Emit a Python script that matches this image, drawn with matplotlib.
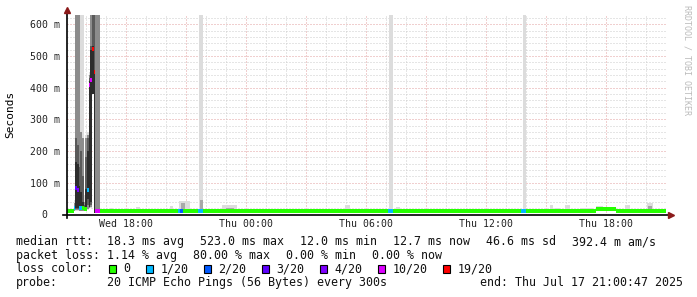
import numpy as np
import matplotlib.pyplot as plt
from matplotlib.patches import Rectangle

plt.rcParams['font.family'] = ['DejaVu Sans Mono', 'DejaVu Sans']

W, H = 697, 297
STEP = 5 / 60                    # rrd step, hours
X_START, X_END = -8.95, 21.01    # hours relative to Thu 00:00
Y_TOP = 629                      # ms
MED_W = 12.5                     # thickness of the median bar, ms

# smokeping loss colours
loss_levels = [0, 1, 2, 3, 4, 10, 19]
loss_colors = ['#26ff00', '#00b8ff', '#0059ff', '#5e00ff', '#7e00ff', '#dd00ff', '#ff0000']
loss_labels = ['0', '1/20', '2/20', '3/20', '4/20', '10/20', '19/20']

# smoke shades, outer -> inner
band_colors = ['#dcdcdc', '#8c8c8c', '#5a5a5a', '#2d2d2d']

# --- the spike at the left, one value per 5 min step from SPIKE_T0 ---
SPIKE_T0 = -8.615
spike_med = [20, 84, 76, 22, 22, 20, 16, 18, 78, 408, 424, 523, 450, 12, 12, 12]
spike_loss = [1, 3, 4, 1, 1, 0, 0, 0, 1, 10, 10, 19, 19, 10, 10, 10]
b1_lo = [10, 10, 10, 10, 10, 10, 10, 12, 15, 20, 20, 380, 5, 10, 10, 10]
b1_hi = [45, 700, 700, 700, 700, 700, 60, 250, 260, 450, 700, 700, 700, 700, 700, 700]
b2_lo = [12, 14, 14, 12, 12, 12, 12, 14, 18, 22, 25, 380, 5, 10, 10, 10]
b2_hi = [35, 700, 700, 700, 260, 240, 40, 240, 250, 440, 700, 700, 700, 700, 700, 700]
b3_lo = [14, 18, 18, 16, 14, 14, 13, 16, 30, 24, 30, 380, 5, 11, 11, 11]
b3_hi = [28, 240, 220, 150, 200, 120, 30, 180, 240, 430, 530, 700, 700, 14, 14, 14]
b4_lo = [16, 22, 22, 18, 16, 15, 14, 18, 50, 25, 40, 380, 5, 11, 11, 11]
b4_hi = [24, 165, 160, 90, 70, 40, 22, 80, 200, 420, 520, 530, 455, 13, 13, 13]

# --- median runs outside the spike ---
run_t0 = [-8.95, -7.282, -3.715, -3.40, -3.30, -3.15, -2.385, -2.135, -1.965, -0.80,
          7.115, 7.365, 13.75, 14.00, 17.50, 18.50]
run_t1 = [-8.615, -3.715, -3.40, -3.30, -3.15, -2.385, -2.135, -1.965, -0.80, 7.115,
          7.365, 13.75, 14.00, 17.50, 18.50, 21.01]
run_med = [12.5, 12.5, 11, 12, 12, 11, 12, 12.5, 11, 12.5, 12.5, 12.5, 12.5, 12.5, 17, 12.5]
run_loss = [0, 0, 0, 1, 2, 0, 1, 0, 0, 0, 1, 0, 1, 0, 0, 0]

# --- smoke blips outside the spike ---
BLIP_LO = 10
blip_t0 = [-6.80, -5.50, -3.80, -3.35, -2.335, -1.965, -1.215, 0.035, 0.70, 4.95, 5.95,
           7.165, 7.50, 10.535, 11.95, 13.035, 13.835, 15.20, 15.45, 15.95, 16.70,
           17.50, 18.20, 18.95, 20.035, 20.35]
blip_t1 = [-6.665, -5.30, -3.65, -2.80, -2.135, -1.80, -0.465, 0.35, 1.035, 5.20, 6.20,
           7.365, 7.70, 10.85, 12.20, 13.20, 14.00, 15.365, 15.70, 16.20, 17.35,
           17.85, 18.35, 19.20, 20.365, 20.85]
blip_hi = [21, 25, 28, 43, 700, 18, 30, 18, 17, 30, 18, 700, 24, 18, 18, 17, 700, 30,
           20, 30, 22, 27, 25, 30, 35, 18]
inner_t0 = [-3.25, -2.30, -1.00, 20.10]
inner_t1 = [-3.05, -2.15, -0.60, 20.30]
inner_hi = [35, 45, 22, 28]

ytick_vals = [0, 100, 200, 300, 400, 500, 600]
ytick_labels = ['0\u00a0\u00a0', '100 m', '200 m', '300 m', '400 m', '500 m', '600 m']
xtick_vals = [-6, 0, 6, 12, 18]
xtick_labels = ['Wed 18:00', 'Thu 00:00', 'Thu 06:00', 'Thu 12:00', 'Thu 18:00']


def loss_color(n):
    c = loss_colors[0]
    for lv, col in zip(loss_levels, loss_colors):
        if n >= lv:
            c = col
    return c


def px(x, y):
    return x / W, 1 - y / H


fig = plt.figure(figsize=(W / 100, H / 100), dpi=100)
ax = fig.add_axes([67 / W, (H - 214.5) / H, (666 - 67) / W, (214.5 - 15) / H])
ax.set_xlim(X_START, X_END)
ax.set_ylim(0, Y_TOP)

# grid, dotted, under the data
minor_c, major_c = '#cccccc', '#e2a0a0'
for v in range(20, Y_TOP, 20):
    ax.axhline(v, color=major_c if v % 100 == 0 else minor_c, lw=0.72,
               ls=(0, (1, 2)), zorder=1)
for h in range(-8, 22):
    ax.axvline(h, color=major_c if h % 3 == 0 else minor_c, lw=0.72,
               ls=(0, (1, 2)), zorder=1)

# smoke: spike
edges = SPIKE_T0 + STEP * np.arange(len(spike_med) + 1)
for lo, hi, col in zip([b1_lo, b2_lo, b3_lo, b4_lo], [b1_hi, b2_hi, b3_hi, b4_hi], band_colors):
    lo = np.r_[lo, lo[-1]]
    hi = np.r_[hi, hi[-1]]
    ax.fill_between(edges, lo, hi, step='post', color=col, lw=0, zorder=2)

# smoke: blips
t0, t1 = np.array(blip_t0), np.array(blip_t1)
ax.bar(t0, np.array(blip_hi) - BLIP_LO, bottom=BLIP_LO, width=t1 - t0, align='edge',
       color=band_colors[0], lw=0, zorder=2)
t0, t1 = np.array(inner_t0), np.array(inner_t1)
ax.bar(t0, np.array(inner_hi) - BLIP_LO, bottom=BLIP_LO, width=t1 - t0, align='edge',
       color='#a8a8a8', lw=0, zorder=2)

# median
t0, t1 = np.array(run_t0), np.array(run_t1)
ax.bar(t0, MED_W, bottom=np.array(run_med) - MED_W / 2, width=t1 - t0, align='edge',
       color=[loss_color(n) for n in run_loss], lw=0, zorder=3)
ax.bar(edges[:-1], MED_W, bottom=np.array(spike_med) - MED_W / 2, width=STEP, align='edge',
       color=[loss_color(n) for n in spike_loss], lw=0, zorder=3)

# axes
for s in ax.spines.values():
    s.set_visible(False)
ax.plot([-0.0067, 1.006], [0, 0], transform=ax.transAxes, clip_on=False, color='black', lw=1.2, zorder=4)
ax.plot([0, 0], [-0.02, 1.02], transform=ax.transAxes, clip_on=False, color='black', lw=1.2, zorder=4)
ax.plot([1.0085], [0], marker='>', ms=4.5, color='#8b1a1a', transform=ax.transAxes, clip_on=False, zorder=5)
ax.plot([0], [1.025], marker='^', ms=4.5, color='#8b1a1a', transform=ax.transAxes, clip_on=False, zorder=5)

ax.set_yticks(ytick_vals)
ax.set_yticklabels(ytick_labels)
ax.set_xticks(xtick_vals)
ax.set_xticklabels(xtick_labels)
ax.tick_params(length=0, labelsize=7.1, colors='#222222')
ax.tick_params(axis='y', pad=5)
ax.tick_params(axis='x', pad=3.5)

fig.text(*px(10.7, 114), 'Seconds', rotation=90, ha='center', va='center', fontsize=8)
fig.text(*px(687, 5), 'RRDTOOL / TOBI OETIKER', rotation=270, ha='center', va='top',
         fontsize=6, color='#bbbbbb')

# legend
fs = 8.37
tc = '#111111'
lines_y = [241.7, 255.3, 269, 282.7]
fig.text(*px(16, lines_y[0]), 'median rtt:', fontsize=fs, va='center', color=tc)
for x, s in zip([107.3, 200.3, 300.3, 393.3, 486.3, 572.3],
                ['18.3 ms avg', '523.0 ms max', '12.0 ms min', '12.7 ms now', '46.6 ms sd', '392.4 m am/s']):
    fig.text(*px(x, lines_y[0]), s, fontsize=fs, va='center', color=tc)
fig.text(*px(16, lines_y[1]), 'packet loss:', fontsize=fs, va='center', color=tc)
for x, s in zip([107.3, 193.3, 286.3, 372.3],
                ['1.14 % avg', '80.00 % max', '0.00 % min', '0.00 % now']):
    fig.text(*px(x, lines_y[1]), s, fontsize=fs, va='center', color=tc)
fig.text(*px(16, lines_y[2]), 'loss color:', fontsize=fs, va='center', color=tc)
bx = 108.7
for lab, col in zip(loss_labels, loss_colors):
    x0, y0 = px(bx, lines_y[2] + 4)
    fig.patches.append(Rectangle((x0, y0), 7 / W, 8 / H, transform=fig.transFigure,
                                 facecolor=col, edgecolor='black', lw=0.8))
    fig.text(*px(bx + 14.5, lines_y[2]), lab, fontsize=fs, va='center', color=tc)
    bx = bx + 14.5 + 7.0 * len(lab) + 15.5
fig.text(*px(16, lines_y[3]), 'probe:', fontsize=fs, va='center', color=tc)
fig.text(*px(107.3, lines_y[3]), '20 ICMP Echo Pings (56 Bytes) every 300s', fontsize=fs, va='center', color=tc)
fig.text(*px(683, lines_y[3]), 'end: Thu Jul 17 21:00:47 2025', fontsize=fs, va='center', ha='right', color=tc)

fig.savefig('out.png', dpi=100)
